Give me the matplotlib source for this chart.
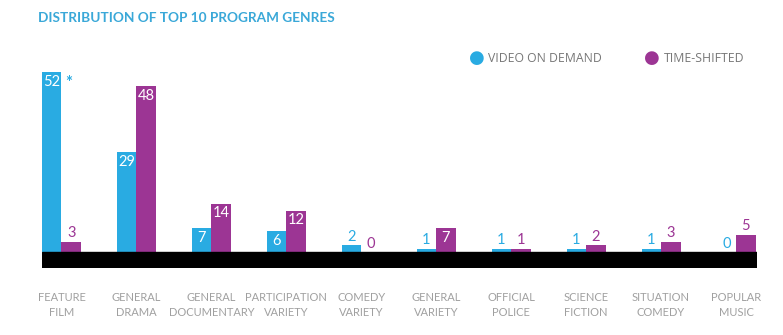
import numpy as np
import matplotlib.pyplot as plt

# Data
genres = ["FEATURE\nFILM", "GENERAL\nDRAMA", "GENERAL\nDOCUMENTARY", "PARTICIPATION\nVARIETY",
          "COMEDY\nVARIETY", "GENERAL\nVARIETY", "OFFICIAL\nPOLICE", "SCIENCE\nFICTION",
          "SITUATION\nCOMEDY", "POPULAR\nMUSIC"]
vod = [52, 29, 7, 6, 2, 1, 1, 1, 1, 0]
time_shifted = [3, 48, 14, 12, 0, 7, 1, 2, 3, 5]

blue = "#29abe2"
purple = "#9c3594"
gray = "#a0a0a0"

plt.rcParams["font.family"] = ["Lato", "DejaVu Sans"]

fig = plt.figure(figsize=(7.83, 3.35), dpi=100)
ax = fig.add_axes([42 / 783, (335 - 268) / 335, 715 / 783, (268 - 40) / 335])

x = np.arange(len(genres))
w = 0.26
b1 = ax.bar(x - w / 2, vod, w, color=blue)
b2 = ax.bar(x + w / 2, time_shifted, w, color=purple)

ymax = 61.3
band = 4.6
ax.set_xlim(-0.26, 9.28)
ax.set_ylim(-band, ymax)
ax.axhspan(-band, 0, color="black", zorder=3)


def label(bars, values, color):
    for rect, v in zip(bars, values):
        cx = rect.get_x() + rect.get_width() / 2
        if v >= 6:
            ax.annotate(str(v), (cx, v), xytext=(0, -2), textcoords="offset points",
                        ha="center", va="top", color="white", fontsize=10.5)
        else:
            ax.annotate(str(v), (cx, v), xytext=(0, 1), textcoords="offset points",
                        ha="center", va="bottom", color=color, fontsize=10.5)


label(b1, vod, blue)
label(b2, time_shifted, purple)

# asterisk next to the feature film bar
ax.annotate("*", (b1[0].get_x() + b1[0].get_width(), vod[0]), xytext=(3, -2),
            textcoords="offset points", ha="left", va="top", color=blue,
            fontsize=12, fontweight="bold")

# category labels, one text per line so neighbouring rows stay apart
for xi, g in zip(x, genres):
    for k, line in enumerate(g.split("\n")):
        ax.annotate(line, (xi, -band), xytext=(0, -17.5 - 10.8 * k), textcoords="offset points",
                    ha="center", va="top", color=gray, fontsize=8, annotation_clip=False)

for s in ax.spines.values():
    s.set_visible(False)
ax.set_xticks([])
ax.set_yticks([])

fig.text(38 / 783, 1 - 18 / 335, "DISTRIBUTION OF TOP 10 PROGRAM GENRES", color="#3aa8d8",
         fontsize=9.8, fontweight="bold", ha="left", va="center")

# legend
fig.text(477 / 783, 1 - 58 / 335, "\u25CF", color=blue, fontsize=13, ha="center", va="center",
         family="DejaVu Sans")
fig.text(488 / 783, 1 - 58 / 335, "VIDEO ON DEMAND", color="#777777", fontsize=8.8,
         ha="left", va="center", family="Open Sans")
fig.text(652 / 783, 1 - 58 / 335, "\u25CF", color=purple, fontsize=13, ha="center", va="center",
         family="DejaVu Sans")
fig.text(664 / 783, 1 - 58 / 335, "TIME-SHIFTED", color="#777777", fontsize=8.8,
         ha="left", va="center", family="Open Sans")

fig.savefig("out.png", dpi=100, facecolor="white")
